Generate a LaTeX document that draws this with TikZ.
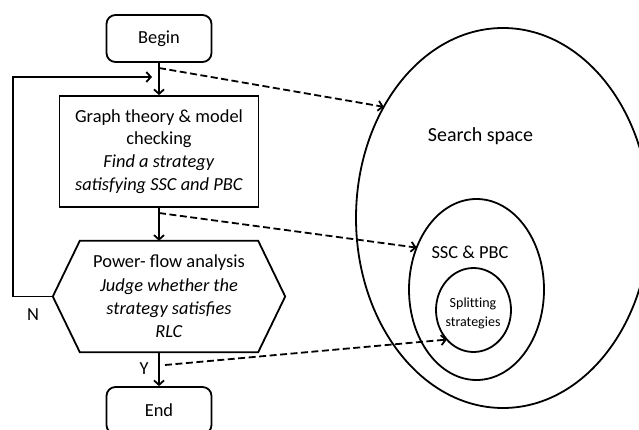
\documentclass[tikz,border=0pt]{standalone}
\usepackage{fontspec}
\setmainfont{Carlito}
\usetikzlibrary{arrows.meta,shapes.geometric}
\begin{document}
\begin{tikzpicture}[x=1pt,y=-1pt,
  txt/.style={align=center, inner sep=0pt, font=\fontsize{18.4}{22.7}\selectfont},
  box/.style={txt, draw, line width=1.8pt},
  term/.style={box, rounded corners=9pt, minimum width=105pt, minimum height=47pt},
  proc/.style={box, minimum width=199pt, minimum height=111pt},
  tip/.style={-{Straight Barb[length=4.5pt,width=10pt,line width=1.8pt]}},
  flow/.style={line width=1.8pt, tip},
  dashflow/.style={line width=1.8pt, dash pattern=on 7pt off 3.5pt, tip},
  region/.style={draw, ellipse, line width=1.8pt, inner sep=0pt, outer sep=0pt}
]
\useasboundingbox (0,0) rectangle (639,430);
\clip (0,0) rectangle (639,430);

% right-hand regions
\node[region, minimum width=294pt, minimum height=380pt] (space) at (503,218) {};
\node[region, minimum width=135pt, minimum height=181pt] (ssc) at (476.5,289.5) {};
\node[region, minimum width=75pt, minimum height=84pt] (split) at (473.5,310) {};
\node[txt, font=\fontsize{20}{24}\selectfont] (spacelbl) at (480.5,136) {Search space};
\node[txt] (ssclbl) at (470,252) {SSC \& PBC};
\node[txt, font=\fontsize{14}{18.5}\selectfont\addfontfeatures{Ligatures=NoCommon}] (splitlbl) at (473,313.5) {Splitting\\strategies};

% flowchart
\node[term] (begin) at (159,38.5) {Begin};
\node[proc] (graph) at (159,151.5) {Graph theory \& model\\checking\\\textit{Find a strategy}\\\textit{satisfying SSC and PBC}};
\node[txt, font=\fontsize{18.4}{23.3}\selectfont, minimum width=232pt, minimum height=111pt] (judge) at (169,296.5)
  {Power- flow analysis\\\textit{Judge whether the}\\\textit{strategy satisfies}\\\textit{RLC}};
\draw[line width=1.8pt, line join=miter]
  (judge.west) -- ([xshift=27pt]judge.north west) -- ([xshift=-27pt]judge.north east)
  -- (judge.east) -- ([xshift=-27pt]judge.south east) -- ([xshift=27pt]judge.south west) -- cycle;
\node[term] (end) at (159,410.5) {End};

\draw[flow] (begin.south) -- (graph.north);
\draw[flow] (graph.south) -- (graph.south |- judge.north);
\draw[flow] (end.north |- judge.south) -- (end.north);

\coordinate (loopcorner) at (13,77);
\coordinate (loopin) at (152,77);
\draw[flow] (judge.west) -| (loopcorner) -- (loopin);

\node[txt] (nlbl) at (33,315) {N};
\node[txt] (ylbl) at (144,369) {Y};

\coordinate (d1) at (159,68);
\coordinate (d2) at (159,213);
\coordinate (d3) at (165,365);
\draw[dashflow] (d1) -- (space.137.5);
\draw[dashflow] (d2) -- (ssc.145);
\draw[dashflow] (d3) -- (split.228.5);
\end{tikzpicture}
\end{document}
